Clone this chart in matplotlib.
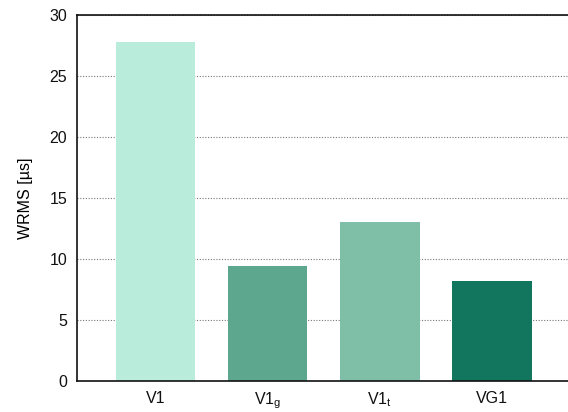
"""Bar chart of WRMS per solution variant."""

import matplotlib

matplotlib.use("Agg")

import matplotlib.pyplot as plt
import numpy as np

plt.rcParams["font.family"] = ["Liberation Sans", "DejaVu Sans"]
plt.rcParams["mathtext.fontset"] = "custom"
plt.rcParams["mathtext.rm"] = "Liberation Sans"

CATEGORIES = ["V1", r"V1$_\mathregular{g}$", r"V1$_\mathregular{t}$", "VG1"]
WRMS_US = [27.75, 9.43, 13.03, 8.22]
BAR_COLORS = ["#b9ecdb", "#5ea78f", "#7fbea7", "#12765f"]
Y_TICKS = [0, 5, 10, 15, 20, 25, 30]


def main() -> None:
    figure = plt.figure(figsize=(5.68, 4.12), dpi=100)
    axis = figure.add_axes([77 / 568, 1 - 381 / 412, 493.5 / 568, 366 / 412])

    positions = np.arange(len(CATEGORIES))
    axis.bar(positions, WRMS_US, width=0.71, color=BAR_COLORS, zorder=2)

    axis.set_xlim(-0.7, 3.7)
    axis.set_ylim(0, 30)
    axis.set_xticks(positions)
    axis.set_xticklabels(CATEGORIES)
    axis.set_yticks(Y_TICKS)

    axis.tick_params(axis="both", labelsize=11.5, length=0, colors="#111111")
    axis.tick_params(axis="x", pad=7)
    axis.tick_params(axis="y", pad=7)
    axis.yaxis.grid(True, linestyle=(0, (1, 1.5)), color="#777777", linewidth=0.8,
                    zorder=0)
    axis.set_axisbelow(True)

    for side in ["left", "bottom", "top"]:
        axis.spines[side].set_linewidth(1.2)
        axis.spines[side].set_color("#111111")
    axis.spines["right"].set_visible(False)

    axis.set_ylabel("WRMS [µs]", fontsize=11.5)
    axis.yaxis.set_label_coords(-0.089, 0.5)

    figure.savefig("out.png", dpi=100)
    plt.close(figure)


if __name__ == "__main__":
    main()
